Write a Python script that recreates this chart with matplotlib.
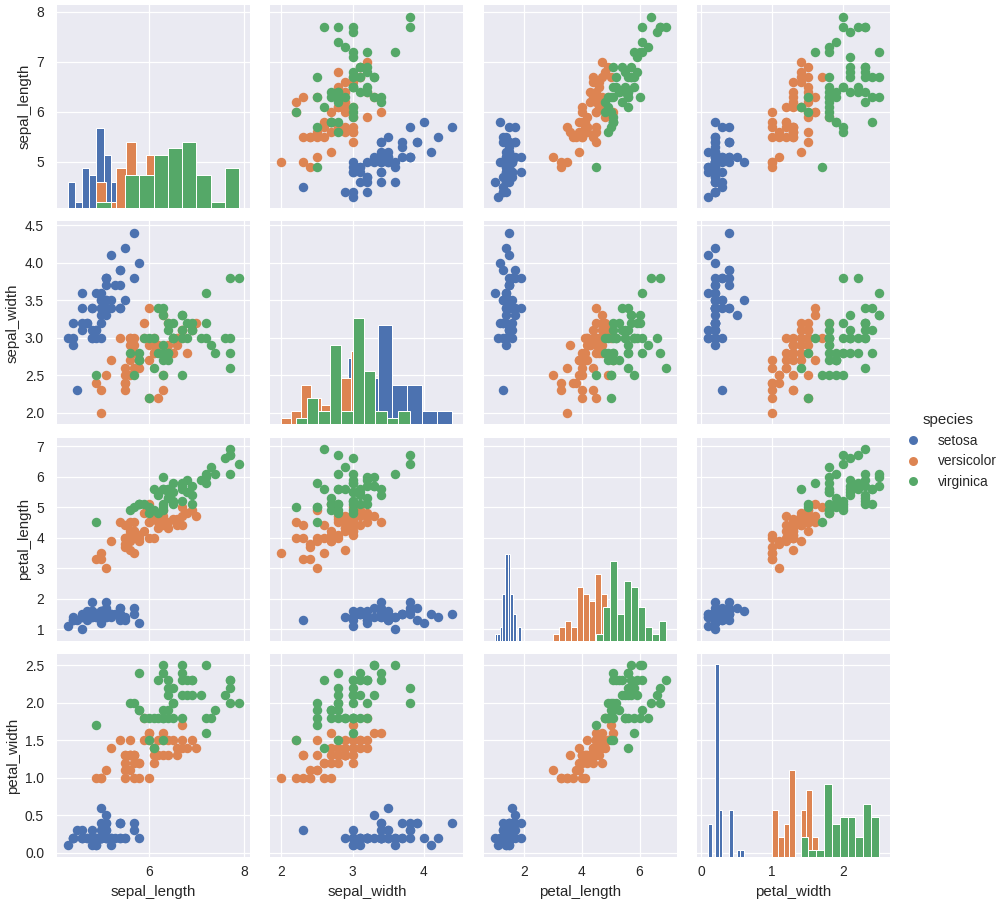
import matplotlib
matplotlib.use('Agg')
import matplotlib.pyplot as plt
from matplotlib.lines import Line2D

features = ['sepal_length', 'sepal_width', 'petal_length', 'petal_width']
species = ['setosa', 'versicolor', 'virginica']
colors = ['#4C72B0', '#DD8452', '#55A868']

setosa_sepal_length = [5.1,4.9,4.7,4.6,5.0,5.4,4.6,5.0,4.4,4.9,5.4,4.8,4.8,4.3,5.8,5.7,5.4,5.1,5.7,5.1,5.4,5.1,4.6,5.1,4.8,5.0,5.0,5.2,5.2,4.7,4.8,5.4,5.2,5.5,4.9,5.0,5.5,4.9,4.4,5.1,5.0,4.5,4.4,5.0,5.1,4.8,5.1,4.6,5.3,5.0]
setosa_sepal_width = [3.5,3.0,3.2,3.1,3.6,3.9,3.4,3.4,2.9,3.1,3.7,3.4,3.0,3.0,4.0,4.4,3.9,3.5,3.8,3.8,3.4,3.7,3.6,3.3,3.4,3.0,3.4,3.5,3.4,3.2,3.1,3.4,4.1,4.2,3.1,3.2,3.5,3.6,3.0,3.4,3.5,2.3,3.2,3.5,3.8,3.0,3.8,3.2,3.7,3.3]
setosa_petal_length = [1.4,1.4,1.3,1.5,1.4,1.7,1.4,1.5,1.4,1.5,1.5,1.6,1.4,1.1,1.2,1.5,1.3,1.4,1.7,1.5,1.7,1.5,1.0,1.7,1.9,1.6,1.6,1.5,1.4,1.6,1.6,1.5,1.5,1.4,1.5,1.2,1.3,1.4,1.3,1.5,1.3,1.3,1.3,1.6,1.9,1.4,1.6,1.4,1.5,1.4]
setosa_petal_width = [.2,.2,.2,.2,.2,.4,.3,.2,.2,.1,.2,.2,.1,.1,.2,.4,.4,.3,.3,.3,.2,.4,.2,.5,.2,.2,.4,.2,.2,.2,.2,.4,.1,.2,.2,.2,.2,.1,.2,.2,.3,.3,.2,.6,.4,.3,.2,.2,.2,.2]

versicolor_sepal_length = [7.0,6.4,6.9,5.5,6.5,5.7,6.3,4.9,6.6,5.2,5.0,5.9,6.0,6.1,5.6,6.7,5.6,5.8,6.2,5.6,5.9,6.1,6.3,6.1,6.4,6.6,6.8,6.7,6.0,5.7,5.5,5.5,5.8,6.0,5.4,6.0,6.7,6.3,5.6,5.5,5.5,6.1,5.8,5.0,5.6,5.7,5.7,6.2,5.1,5.7]
versicolor_sepal_width = [3.2,3.2,3.1,2.3,2.8,2.8,3.3,2.4,2.9,2.7,2.0,3.0,2.2,2.9,2.9,3.1,3.0,2.7,2.2,2.5,3.2,2.8,2.5,2.8,2.9,3.0,2.8,3.0,2.9,2.6,2.4,2.4,2.7,2.7,3.0,3.4,3.1,2.3,3.0,2.5,2.6,3.0,2.6,2.3,2.7,3.0,2.9,2.9,2.5,2.8]
versicolor_petal_length = [4.7,4.5,4.9,4.0,4.6,4.5,4.7,3.3,4.6,3.9,3.5,4.2,4.0,4.7,3.6,4.4,4.5,4.1,4.5,3.9,4.8,4.0,4.9,4.7,4.3,4.4,4.8,5.0,4.5,3.5,3.8,3.7,3.9,5.1,4.5,4.5,4.7,4.4,4.1,4.0,4.4,4.6,4.0,3.3,4.2,4.2,4.2,4.3,3.0,4.1]
versicolor_petal_width = [1.4,1.5,1.5,1.3,1.5,1.3,1.6,1.0,1.3,1.4,1.0,1.5,1.0,1.4,1.3,1.4,1.5,1.0,1.5,1.1,1.8,1.3,1.5,1.2,1.3,1.4,1.4,1.7,1.5,1.0,1.1,1.0,1.2,1.6,1.5,1.6,1.5,1.3,1.3,1.3,1.2,1.4,1.2,1.0,1.3,1.2,1.3,1.3,1.1,1.3]

virginica_sepal_length = [6.3,5.8,7.1,6.3,6.5,7.6,4.9,7.3,6.7,7.2,6.5,6.4,6.8,5.7,5.8,6.4,6.5,7.7,7.7,6.0,6.9,5.6,7.7,6.3,6.7,7.2,6.2,6.1,6.4,7.2,7.4,7.9,6.4,6.3,6.1,7.7,6.3,6.4,6.0,6.9,6.7,6.9,5.8,6.8,6.7,6.7,6.3,6.5,6.2,5.9]
virginica_sepal_width = [3.3,2.7,3.0,2.9,3.0,3.0,2.5,2.9,2.5,3.6,3.2,2.7,3.0,2.5,2.8,3.2,3.0,3.8,2.6,2.2,3.2,2.8,2.8,2.7,3.3,3.2,2.8,3.0,2.8,3.0,2.8,3.8,2.8,2.8,2.6,3.0,3.4,3.1,3.0,3.1,3.1,3.1,2.7,3.2,3.3,3.0,2.5,3.0,3.4,3.0]
virginica_petal_length = [6.0,5.1,5.9,5.6,5.8,6.6,4.5,6.3,5.8,6.1,5.1,5.3,5.5,5.0,5.1,5.3,5.5,6.7,6.9,5.0,5.7,4.9,6.7,4.9,5.7,6.0,4.8,4.9,5.6,5.8,6.1,6.4,5.6,5.1,5.6,6.1,5.6,5.5,4.8,5.4,5.6,5.1,5.1,5.9,5.7,5.2,5.0,5.2,5.4,5.1]
virginica_petal_width = [2.5,1.9,2.1,1.8,2.2,2.1,1.7,1.8,1.8,2.5,2.0,1.9,2.1,2.0,2.4,2.3,1.8,2.2,2.3,1.5,2.3,2.0,2.0,1.8,2.1,1.8,1.8,1.8,2.1,1.6,1.9,2.0,2.2,1.5,1.4,2.3,2.4,1.8,1.8,2.1,2.4,2.3,1.9,2.3,2.5,2.3,1.9,2.0,2.3,1.8]

data = [
	[setosa_sepal_length, setosa_sepal_width, setosa_petal_length, setosa_petal_width],
	[versicolor_sepal_length, versicolor_sepal_width, versicolor_petal_length, versicolor_petal_width],
	[virginica_sepal_length, virginica_sepal_width, virginica_petal_length, virginica_petal_width],
]

xticks = [[6, 8], [2, 3, 4], [2, 4, 6], [0, 1, 2]]
yticks = [[5, 6, 7, 8], [2.0, 2.5, 3.0, 3.5, 4.0, 4.5], [1, 2, 3, 4, 5, 6, 7], [0.0, 0.5, 1.0, 1.5, 2.0, 2.5]]
limits = [(4.07, 8.13), (1.845, 4.555), (0.62, 7.28), (-0.055, 2.655)]
# all diagonal hists share one count scale
diag_top = 30.5

plt.rcParams['font.family'] = ['Liberation Sans', 'DejaVu Sans']
plt.rcParams['text.color'] = '.15'
plt.rcParams['axes.labelcolor'] = '.15'
plt.rcParams['xtick.color'] = '.15'
plt.rcParams['ytick.color'] = '.15'

fig, axes = plt.subplots(4, 4, sharex='col', sharey='row', figsize=(14, 12.5), dpi=72)
fig.subplots_adjust(left=57/1008, right=890/1008, top=1-5/900, bottom=1-857/900, wspace=20.3/193, hspace=13/203)

for row in range(4):
	for col in range(4):
		ax = axes[row][col]
		ax.set_facecolor('#EAEAF2')
		ax.grid(True, color='white', linewidth=1.25)
		ax.set_axisbelow(True)
		for side in ax.spines:
			ax.spines[side].set_visible(False)
		ax.tick_params(axis='x', length=0, labelsize=13.75, pad=8)
		ax.tick_params(axis='y', length=0, labelsize=13.75, pad=13)
		if row == col:
			diag = ax.twinx()
			for i in range(3):
				diag.hist(data[i][col], bins=10, color=colors[i], edgecolor='white', linewidth=1.0)
			diag.set_ylim(0, diag_top)
			diag.set_axis_off()
		else:
			for i in range(3):
				ax.scatter(data[i][col], data[i][row], s=90, color=colors[i], linewidths=0)
		if col == 0:
			ax.set_ylabel(features[row], fontsize=15, labelpad=5)
		if row == 3:
			ax.set_xlabel(features[col], fontsize=15, labelpad=5.5)

for i in range(4):
	axes[3][i].set_xticks(xticks[i])
	axes[3][i].set_xlim(limits[i])
	axes[i][0].set_yticks(yticks[i])
	axes[i][0].set_ylim(limits[i])
axes[1][0].set_yticklabels(['%.1f' % t for t in yticks[1]])
axes[3][0].set_yticklabels(['%.1f' % t for t in yticks[3]])

handles = [Line2D([], [], linestyle='', marker='o', markersize=9, color=c, markeredgewidth=0) for c in colors]
fig.legend(handles, species, title='species', loc='center left', bbox_to_anchor=(887/1008, 1-451/900),
	frameon=False, fontsize=13.75, title_fontsize=15, labelspacing=0.5, handletextpad=0.8)

fig.savefig('out.png', dpi=72)
